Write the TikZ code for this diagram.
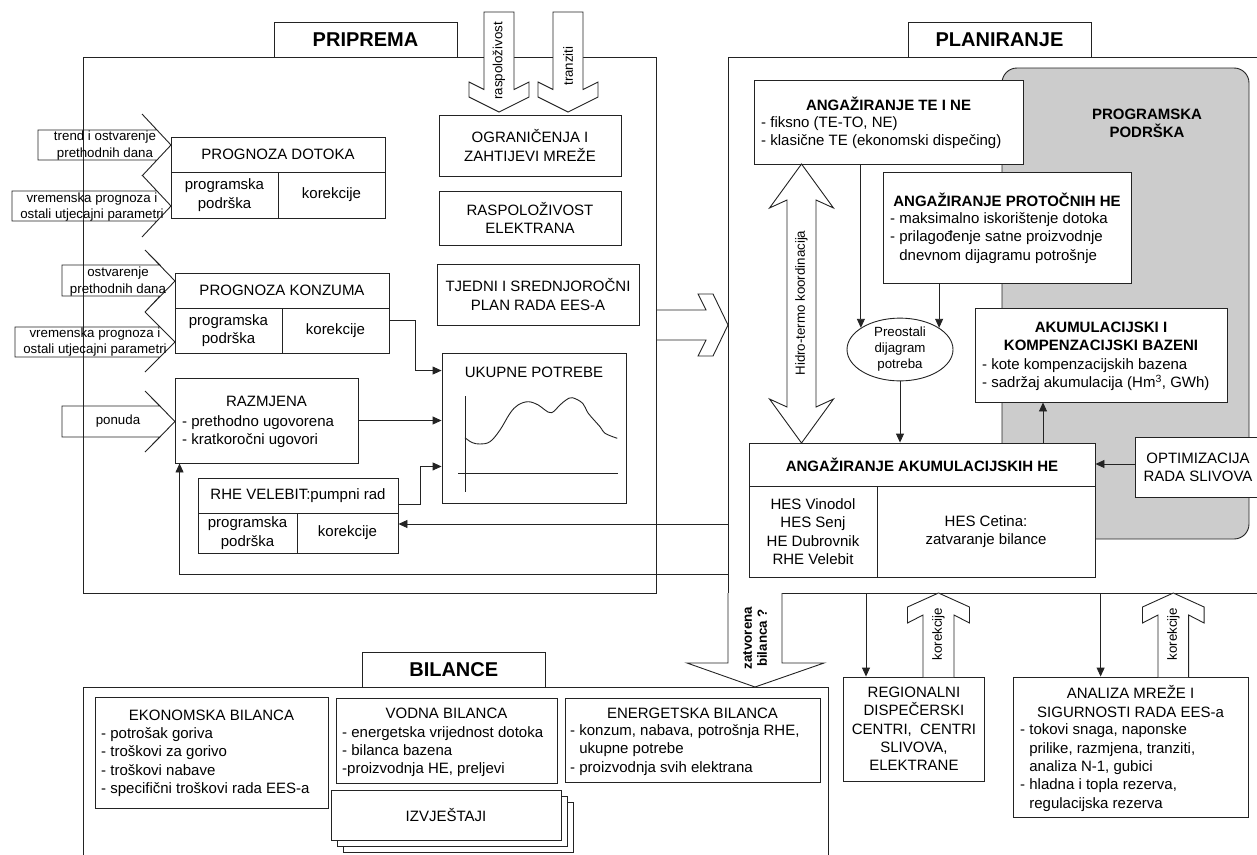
\documentclass[tikz,border=0pt]{standalone}
\usepackage{fontspec}
\setmainfont{Liberation Sans}
\usetikzlibrary{arrows.meta,fit,shapes.geometric}
\definecolor{pgray}{RGB}{204,204,204}
\definecolor{lc}{RGB}{35,35,35}

\tikzset{
  ln/.style={line width=0.9pt, draw=lc},
  frame/.style={ln, rectangle, inner sep=0pt},
  box/.style={ln, rectangle, inner sep=0pt, fill=white},
  big/.style={font=\fontsize{15}{18.3}\selectfont},
  ctxt/.style={inner sep=0pt, big, align=center},
  lst/.style={inner sep=0pt, big, align=left, anchor=north west},
  bttl/.style={inner sep=0pt, font=\fontsize{15}{18.3}\bfseries\selectfont, align=center},
  sml/.style={inner sep=0pt, font=\fontsize{13.3}{16.5}\selectfont, align=center},
  smlb/.style={inner sep=0pt, font=\fontsize{13.3}{15}\bfseries\selectfont, align=center},
  headt/.style={font=\fontsize{20}{24}\bfseries\selectfont},
  con/.style={ln, -{Triangle[length=9pt,width=8pt]}},
  blk/.style={ln, line join=miter},
  wblk/.style={blk, fill=white},
}

% a framed cell spanning two corners, with its text centred inside
\newcommand\cellbox[7][]{%
  \node[box, fit={(#3,#4)(#5,#6)}] (#2) {};
  \node[ctxt,#1] (#2-t) at (#2.center) {#7};}

\begin{document}
\begin{tikzpicture}[x=1pt,y=-1pt]
\useasboundingbox (0,0) rectangle (1257,854);

% ================= frames =================
\node[frame, fit={(83,57)(656,593)}] (frP) {};
\node[frame, fit={(728,57)(1290,593)}] (frL) {};
\node[frame, fit={(83.5,687)(828,900)}] (frB) {};

\cellbox[headt]{hP}{274}{22}{457}{57}{PRIPREMA}
\cellbox[headt]{hL}{908}{22}{1091}{57}{PLANIRANJE}
\cellbox[headt]{hB}{362}{652}{545.5}{687}{BILANCE}

% ================= PRIPREMA =================
% input block arrows
\draw[blk] (38,130) -- (157,130) -- (142,114) -- (171,145) -- (142,176) -- (157,160) -- (38,160) -- cycle;
\node[sml] (tA1) at (105,145.5) {trend i ostvarenje\\prethodnih dana};
\draw[blk] (12,191) -- (157,191) -- (142,175) -- (171,206) -- (142,237) -- (157,221) -- (12,221) -- cycle;
\node[sml] (tA2) at (92,207) {vremenska prognoza i\\ostali utjecajni parametri};
\draw[blk] (62,265) -- (160,265) -- (145,250) -- (175,281) -- (145,312) -- (160,296) -- (62,296) -- cycle;
\node[sml] (tA3) at (118,281.5) {ostvarenje\\prethodnih dana};
\draw[blk] (15,327) -- (160,327) -- (145,312) -- (175,342) -- (145,372) -- (160,357) -- (15,357) -- cycle;
\node[sml] (tA4) at (95,342) {vremenska prognoza i\\ostali utjecajni parametri};
\draw[blk] (62,406) -- (160,406) -- (145,391) -- (175,421.5) -- (145,452) -- (160,437) -- (62,437) -- cycle;
\node[sml] (tA5) at (118,421.5) {ponuda};

% forecasts
\cellbox{pdT}{171}{137}{385}{172}{PROGNOZA DOTOKA}
\cellbox{pdL}{171}{172}{278}{218}{programska\\podrška}
\cellbox{pdR}{278}{172}{385}{218}{korekcije}

\cellbox{pkT}{175}{273}{389}{308}{PROGNOZA KONZUMA}
\cellbox{pkL}{175}{308}{282}{353}{programska\\podrška}
\cellbox{pkR}{282}{308}{389}{353}{korekcije}

\node[box, fit={(175,378)(358,463)}] (raz) {};
\node[ctxt] (razT) at (266.5,401.5) {RAZMJENA};
\node[lst] (razL) at (182,413.6) {\strut- prethodno ugovorena\\- kratkoročni ugovori};

\cellbox{rheT}{198}{478}{398}{513}{RHE VELEBIT:pumpni rad}
\cellbox{rheL}{198}{513}{297}{553}{programska\\podrška}
\cellbox{rheK}{297}{513}{398}{553}{korekcije}

\cellbox{ogr}{439}{115}{621}{176}{OGRANIČENJA I\\ZAHTIJEVI MREŽE}
\cellbox{ras}{439}{191}{621}{245}{RASPOLOŽIVOST\\ELEKTRANA}
\cellbox{tje}{437}{264}{639}{325}{TJEDNI I SREDNJOROČNI\\PLAN RADA EES-A}

% inputs from above
\draw[wblk] (484,12) -- (484,89.5) -- (469,82) -- (469,97) -- (499,112) -- (529,97) -- (529,82) -- (514,89.5) -- (514,12) -- cycle;
\node[sml, rotate=90] (tRas) at (499,61) {raspoloživost};
\draw[wblk] (553,12) -- (553,89.5) -- (538,82) -- (538,97) -- (568,112) -- (598,97) -- (598,82) -- (583,89.5) -- (583,12) -- cycle;
\node[sml, rotate=90] (tTra) at (568,66) {tranziti};

% total demand with load curve
\node[box, fit={(442,353)(626,503)}] (uk) {};
\node[ctxt] (ukT) at (534,372.5) {UKUPNE POTREBE};
\draw[ln] (465,396) -- (465,492);
\draw[ln] (458,473) -- (618,473);
\draw[ln] plot[smooth, tension=0.6] coordinates {(465,437.7) (472,442.5) (480,444) (490,441.7) (500,430) (510,413.3) (518,405) (528.3,401.7) (538.3,405) (545,410) (551.7,412.7) (560,405) (566,400) (572.3,397.7) (582.7,403.3) (588.3,413.3) (600,426.7) (605,433.3) (617.3,438.3)};

\draw[con] ([yshift=10pt]pkR.east) -- ++(26,0) |- ([yshift=-18pt]uk.north west);
\draw[con] (raz.east) -- (raz.east -| uk.west);
\draw[con] ([yshift=-8.5pt]rheT.east) -- ++(22,0) |- ([yshift=37pt]uk.south west);

% transfer to planning
\draw[blk] (656,310) -- (706,310) -- (698,294) -- (713,294) -- (728,325) -- (713,356) -- (698,356) -- (706,340) -- (656,340);

% feedback from planning
\coordinate (fb1) at (728,524);
\coordinate (fb2) at (728,574);
\draw[con] (fb1) -- (fb1 -| rheK.east);
\draw[con] (fb2) -| ([xshift=5pt]raz.south west);

% ================= PLANIRANJE =================
\node[ln, fill=pgray, rounded corners=15pt, inner sep=0pt, fit={(1002,68)(1249,539)}] (prog) {};
\node[bttl] (progT) at (1147,123) {PROGRAMSKA\\PODRŠKA};

\node[box, fit={(754,80)(1023,164)}] (te) {};
\node[bttl] (teT) at (888.5,104) {ANGAŽIRANJE TE I NE};
\node[lst] (teL) at (761,114.6) {\strut- fiksno (TE-TO, NE)\\- klasične TE (ekonomski dispečing)};

\node[box, fit={(883,172)(1131,283)}] (pro) {};
\node[bttl] (proT) at (1007,200) {ANGAŽIRANJE PROTOČNIH HE};
\node[lst] (proL) at (890,210.6) {\strut- maksimalno iskorištenje dotoka\\- prilagođenje satne proizvodnje\\\hphantom{- }dnevnom dijagramu potrošnje};

\node[box, fit={(975,308)(1227,402)}] (akb) {};
\node[bttl] (akbT) at (1101,336) {AKUMULACIJSKI I\\KOMPENZACIJSKI BAZENI};
\node[lst] (akbL) at (982,356.6) {\strut- kote kompenzacijskih bazena\\- sadržaj akumulacija (Hm\textsuperscript{3}, GWh)};

\cellbox[font=\fontsize{15}{18.3}\bfseries\selectfont]{akh}{749}{443}{1095}{486}{ANGAŽIRANJE AKUMULACIJSKIH HE}
\cellbox{akhL}{749}{486}{877}{577}{HES Vinodol\\HES Senj\\HE Dubrovnik\\RHE Velebit}
\cellbox{akhR}{877}{486}{1095}{577}{HES Cetina:\\zatvaranje bilance}

\cellbox{opt}{1135}{437}{1261}{497}{OPTIMIZACIJA\\RADA SLIVOVA}

\node[ln, ellipse, fill=white, inner sep=0pt, minimum width=106pt, minimum height=61pt, align=center, font=\fontsize{13.3}{16}\selectfont] (ell) at (900,349.5) {Preostali\\dijagram\\potreba};

% hydro-thermal coordination
\draw[wblk] (801.5,164) -- (833.5,208) -- (816,200) -- (816,407) -- (833.5,399) -- (801.5,443) -- (769.5,399) -- (787,407) -- (787,200) -- (769.5,208) -- cycle;
\node[sml, rotate=90] (tHid) at (801.5,303) {Hidro-termo koordinacija};

\draw[con] (ell.151 |- te.south) -- (ell.151);
\draw[con] (ell.29 |- pro.south) -- (ell.29);
\draw[con] (ell.south) -- (ell.south |- akh.north);
\draw[con] ([xshift=121pt]akh.north) -- ([xshift=121pt]akh.north |- akb.south);
\draw[con] ([yshift=3pt]opt.west) -- ([yshift=3pt]opt.west -| akh.east);

% ================= outputs below planning =================
\cellbox{reg}{843.5}{677}{984.4}{781}{REGIONALNI\\DISPEČERSKI\\CENTRI,~ CENTRI\\SLIVOVA,\\ELEKTRANE}
\node[box, fit={(1013,677)(1248,817)}] (ana) {};
\node[ctxt] (anaT) at (1130.5,701.5) {ANALIZA MREŽE I\\SIGURNOSTI RADA EES-a};
\node[lst] (anaL) at (1020,721.9) {\strut- tokovi snaga, naponske\\\hphantom{- }prilike, razmjena, tranziti,\\\hphantom{- }analiza N-1, gubici\\- hladna i topla rezerva,\\\hphantom{- }regulacijska rezerva};

\coordinate (dRg) at (866,593);
\draw[con] (dRg) -- (dRg |- reg.north);
\coordinate (dAn) at (1100.6,593);
\draw[con] (dAn) -- (dAn |- ana.north);

\draw[wblk] (923,677) -- (923,615) -- (907.5,623) -- (907.5,607) -- (938.5,593) -- (969.5,607) -- (969.5,623) -- (954,615) -- (954,677);
\node[sml, rotate=90] (tK1) at (938.5,634) {korekcije};
\draw[wblk] (1158,677) -- (1158,615) -- (1142.5,623) -- (1142.5,607) -- (1173.3,593) -- (1204.1,607) -- (1204.1,623) -- (1188.6,615) -- (1188.6,677);
\node[sml, rotate=90] (tK2) at (1173.3,634) {korekcije};

\draw[wblk] (728,593) -- (728,663) -- (687,663) -- (755,687) -- (824,663) -- (782,663) -- (782,593);
\node[smlb, rotate=90] (tZat) at (755,638) {zatvorena\\bilanca ?};

% ================= BILANCE =================
\node[box, fit={(95,697)(328,808)}] (eko) {};
\node[ctxt] (ekoT) at (211.5,715) {EKONOMSKA BILANCA};
\node[lst] (ekoL) at (101,725.6) {\strut- potrošak goriva\\- troškovi za gorivo\\- troškovi nabave\\- specifični troškovi rada EES-a};

\node[box, fit={(336,698)(557,783)}] (vod) {};
\node[ctxt] (vodT) at (446.5,713.3) {VODNA BILANCA};
\node[lst] (vodL) at (342,724.3) {\strut- energetska vrijednost dotoka\\- bilanca bazena\\-proizvodnja HE, preljevi};

\node[box, fit={(565,698)(820,782)}] (ene) {};
\node[ctxt] (eneT) at (692.5,713.3) {ENERGETSKA BILANCA};
\node[lst] (eneL) at (570,722.6) {\strut- konzum, nabava, potrošnja RHE,\\\hphantom{- }ukupne potrebe\\- proizvodnja svih elektrana};

\node[box, fit={(343,802)(573,852)}] (izv3) {};
\node[box, fit={(337,796)(567,846)}] (izv2) {};
\cellbox{izv}{331}{790.7}{561}{840}{IZVJEŠTAJI}

\end{tikzpicture}
\end{document}
